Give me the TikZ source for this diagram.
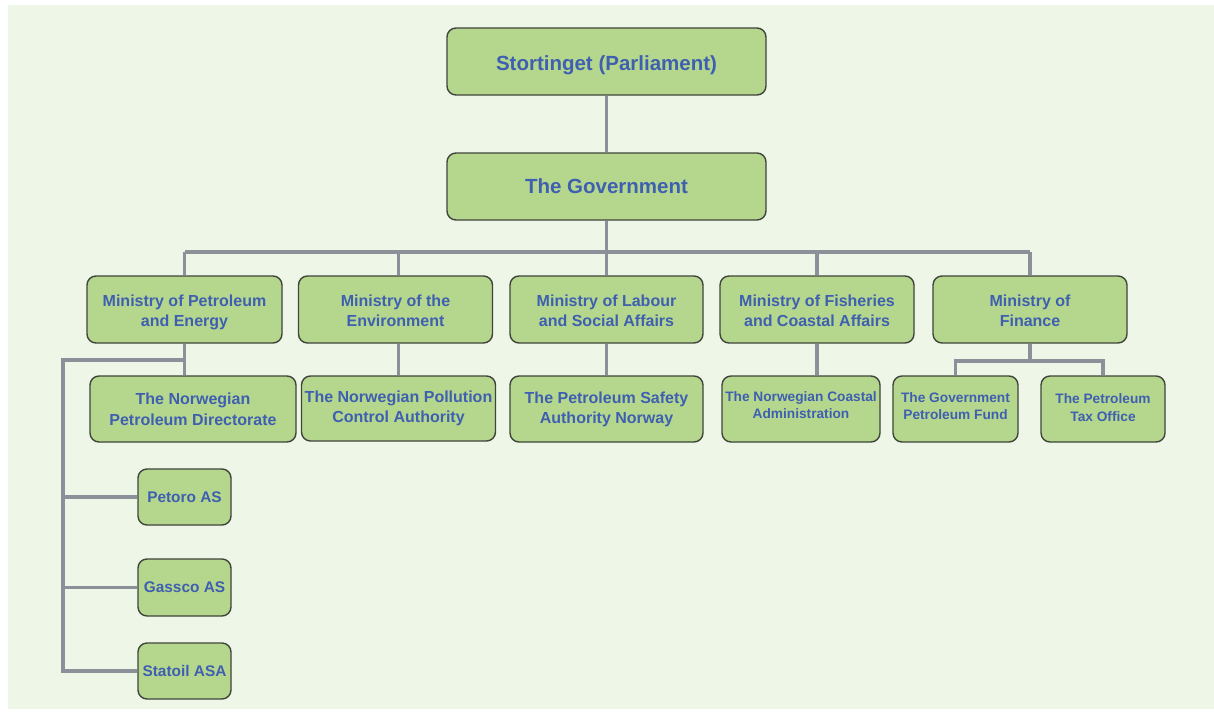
\documentclass[tikz,border=0pt]{standalone}
\usepackage{fontspec}
\setmainfont{Liberation Sans}
\definecolor{bgc}{HTML}{EEF6E7}
\definecolor{boxc}{HTML}{B5D78D}
\definecolor{edgec}{HTML}{3F443C}
\definecolor{txtc}{HTML}{3F5FB0}
\definecolor{linec}{HTML}{8C9098}
\newcommand{\padtop}[1]{\rule{0pt}{#1}}
\begin{document}
\begin{tikzpicture}[x=1pt,y=-1pt,
  orgbox/.style={draw=edgec,fill=boxc,rounded corners=9pt,line width=1.4pt,
    text=txtc,font=\bfseries,align=center,inner sep=0pt},
  big/.style={orgbox,font=\bfseries\fontsize{20.5}{22}\selectfont},
  mid/.style={orgbox,font=\bfseries\fontsize{16}{20}\selectfont},
  small/.style={orgbox,font=\bfseries\fontsize{13.7}{17}\selectfont},
  leaf/.style={orgbox,font=\bfseries\fontsize{15.4}{20}\selectfont},
  botx/.style={execute at end node={\rule[-#1]{0pt}{0pt}}},
  conn/.style={draw=linec,line width=3.2pt}]
\useasboundingbox (0,0) rectangle (1214,712);
\fill[white] (0,0) rectangle (1214,712);
\fill[bgc] (8,5) rectangle (1214,709);
% nodes
\node[big,minimum width=319pt,minimum height=67pt] (st) at (606.5,61.5) {\padtop{21.5pt}Stortinget (Parliament)};
\node[big,minimum width=319pt,minimum height=67pt] (gov) at (606.5,186.5) {The Government};
\node[mid,minimum width=195pt,minimum height=67pt] (mpe) at (184.5,309.5) {\padtop{18pt}Ministry of Petroleum\\and Energy};
\node[mid,minimum width=194pt,minimum height=67pt] (env) at (395.5,309.5) {\padtop{14pt}Ministry of the\\Environment};
\node[mid,minimum width=193pt,minimum height=67pt] (lab) at (606.5,309.5) {\padtop{14pt}Ministry of Labour\\and Social Affairs};
\node[mid,minimum width=194pt,minimum height=67pt] (fis) at (817,309.5) {\padtop{14pt}Ministry of Fisheries\\and Coastal Affairs};
\node[mid,minimum width=194pt,minimum height=67pt] (fin) at (1030,309.5) {\padtop{14pt}Ministry of\\Finance};
\node[mid,minimum width=206pt,minimum height=66pt,font=\bfseries\fontsize{16}{21}\selectfont] (npd) at (193,409) {The Norwegian\\Petroleum Directorate};
\node[mid,minimum width=194pt,minimum height=65pt] (pol) at (398.5,408.5) {The Norwegian Pollution\\Control Authority};
\node[mid,minimum width=193pt,minimum height=66pt] (psa) at (606.5,409) {The Petroleum Safety\\Authority Norway};
\node[small,botx=7pt,minimum width=158pt,minimum height=66pt] (coa) at (801,409) {The Norwegian Coastal\\Administration};
\node[small,botx=6pt,minimum width=125pt,minimum height=66pt] (fund) at (955.5,409) {The Government\\Petroleum Fund};
\node[small,botx=2pt,minimum width=124pt,minimum height=66pt,font=\bfseries\fontsize{13.7}{18}\selectfont] (tax) at (1103,409) {The Petroleum\\Tax Office};
\node[leaf,minimum width=93pt,minimum height=56pt] (pet) at (184.5,497) {Petoro AS};
\node[leaf,minimum width=93pt,minimum height=57pt] (gas) at (184.5,587.5) {Gassco AS};
\node[leaf,minimum width=93pt,minimum height=56pt] (sta) at (184.5,671) {Statoil ASA};
% connector junctions
\coordinate (bar) at (606.5,252);
\coordinate (mb) at (184.5,360);
\coordinate (lft) at (63,360);
\coordinate (fb) at (1030,361);
% connectors
\draw[conn] (st.south) -- (gov.north);
\draw[conn] (gov.south) -- (bar);
\draw[conn] (bar -| mpe.north) -- (bar -| fin.north);
\draw[conn] (bar -| mpe.north) -- (mpe.north);
\draw[conn] (bar -| pol.north) -- (env.north -| pol.north);
\draw[conn] (bar) -- (lab.north);
\draw[conn] (bar -| fis.north) -- (fis.north);
\draw[conn] (bar -| fin.north) -- (fin.north);
\draw[conn] (mpe.south) -- (mpe.south |- npd.north);
\draw[conn] (mb) -- (lft) |- (sta.west);
\draw[conn] (lft |- pet.west) -- (pet.west);
\draw[conn] (lft |- gas.west) -- (gas.west);
\draw[conn] (env.south -| pol.north) -- (pol.north);
\draw[conn] (lab.south) -- (psa.north);
\draw[conn] (fis.south) -- (fis.south |- coa.north);
\draw[conn] (fin.south) -- (fb);
\draw[conn] (fund.north) |- (fb) -| (tax.north);
\end{tikzpicture}
\end{document}
